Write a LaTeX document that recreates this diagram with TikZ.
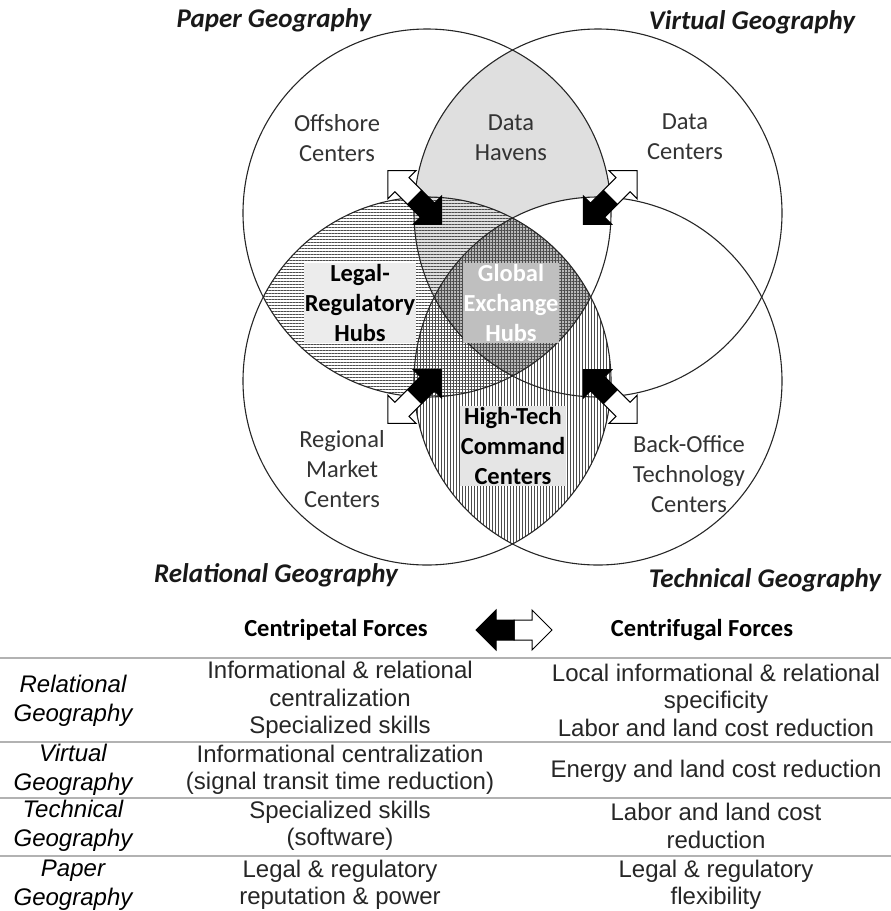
\documentclass[tikz,border=0pt]{standalone}
\usepackage{fontspec}
\setmainfont{Carlito}
\newfontfamily\tablefont{Liberation Sans}
\usetikzlibrary{patterns.meta}

\tikzset{
  forces/.pic={
    \filldraw[fill=white,line width=1pt,line join=miter] (0,-10) -- (18,-10) -- (18,-20) -- (38,0) -- (18,20) -- (18,10) -- (0,10) -- cycle;
    \filldraw[fill=black,line width=1pt,line join=miter] (0,-10) -- (-18,-10) -- (-18,-20) -- (-38,0) -- (-18,20) -- (-18,10) -- (0,10) -- cycle;
  }
}

\begin{document}
\begin{tikzpicture}[x=1pt,y=-1pt,
    ring/.style={draw=black!85,line width=1.1pt},
    hlines/.style={pattern={Lines[angle=0,distance=3pt,line width=0.9pt]},pattern color=black!70},
    vlines/.style={pattern={Lines[angle=90,distance=3pt,line width=0.9pt]},pattern color=black!70},
    place/.style={align=center,text=black!80,font=\fontsize{24.5}{30}\selectfont},
    hub/.style={align=center,inner sep=1pt,font=\fontsize{24.5}{30}\selectfont\bfseries},
    geo/.style={text=black!90,font=\fontsize{27}{30}\selectfont\bfseries\itshape},
    force/.style={font=\fontsize{24.5}{30}\selectfont\bfseries},
    cell/.style={align=center,text=black!85,font=\tablefont\fontsize{24}{27.5}\selectfont},
    rowhead/.style={align=center,font=\tablefont\fontsize{24}{28.5}\selectfont\itshape},
    rule/.style={draw=gray!60,line width=2.5pt}]
\useasboundingbox (0,0) rectangle (891,911);

            % Geographies
            \coordinate (pap) at (427,213);
            \coordinate (vir) at (598,213);
            \coordinate (rel) at (427,381);
            \coordinate (tec) at (598,381);

            % Data havens
            \begin{scope}
              \clip (pap) circle (184pt);
              \fill[gray!25] (vir) circle (184pt);
              \clip (vir) circle (184pt);
              \fill[white] (tec) circle (184pt);
            \end{scope}
            % Legal-regulatory and high-tech lenses
            \begin{scope}
              \clip (pap) circle (184pt);
              \fill[hlines] (rel) circle (184pt);
            \end{scope}
            \begin{scope}
              \clip (rel) circle (184pt);
              \fill[vlines] (tec) circle (184pt);
            \end{scope}
            % Global exchange hubs
            \begin{scope}
              \clip (pap) circle (184pt);
              \clip (vir) circle (184pt);
              \clip (rel) circle (184pt);
              \fill[gray!55] (tec) circle (184pt);
              \fill[hlines] (tec) circle (184pt);
              \fill[vlines] (tec) circle (184pt);
            \end{scope}

            \draw[ring] (pap) circle (184pt);
            \draw[ring] (vir) circle (184pt);
            \draw[ring] (rel) circle (184pt);
            \draw[ring] (tec) circle (184pt);

            % Labels
            \node[geo] (pgeo) at (274,20) {Paper Geography};
            \node[geo] (vgeo) at (752,22) {Virtual Geography};
            \node[geo] (rgeo) at (276,575) {Relational Geography};
            \node[geo] (tgeo) at (765,580) {Technical Geography};

            \node[place] (offshore) at (337,138) {Offshore\\Centers};
            \node[place] (havens) at (511,138) {Data\\Havens};
            \node[place] (datac) at (685,137) {Data\\Centers};
            \node[hub,fill=gray!15] (legal) at (360,303) {Legal-\\Regulatory\\Hubs};
            \node[hub,fill=gray!50,text=white] (global) at (511,303) {Global\\Exchange\\Hubs};
            \node[hub,fill=gray!20] (hightech) at (513,446) {High-Tech\\Command\\Centers};
            \node[place] (regional) at (342,469) {Regional\\Market\\Centers};
            \node[place] (backoffice) at (689,474) {Back-Office\\Technology\\Centers};

            % Forces
            \coordinate (nw) at (414.7,197.4);
            \coordinate (ne) at (610.3,197.4);
            \coordinate (sw) at (414.7,396.6);
            \coordinate (se) at (610.3,396.6);
            \pic[rotate=135] at (nw) {forces};
            \pic[rotate=45] at (ne) {forces};
            \pic[rotate=225] at (sw) {forces};
            \pic[rotate=315] at (se) {forces};

            % Legend
            \node[force] (cpetal) at (336,630) {Centripetal Forces};
            \coordinate (key) at (514,630);
            \pic at (key) {forces};
            \node[force] (cfugal) at (702,630) {Centrifugal Forces};

            % Table
            \draw[rule] (0,658) -- (891,658);
            \draw[rule] (0,742) -- (891,742);
            \draw[rule] (0,798) -- (891,798);
            \draw[rule] (0,856) -- (891,856);

            \node[rowhead] (relrow) at (73,701) {Relational\\Geography};
            \node[cell] (relin) at (340,700) {Informational \& relational\\centralization\\Specialized skills};
            \node[cell] (relout) at (716,700) {Local informational \& relational\\specificity\\Labor and land cost reduction};

            \node[rowhead] (virrow) at (73,770) {Virtual\\Geography};
            \node[cell] (virin) at (340,770) {Informational centralization\\(signal transit time reduction)};
            \node[cell] (virout) at (716,771) {Energy and land cost reduction};

            \node[rowhead] (tecrow) at (73,826) {Technical\\Geography};
            \node[cell] (tecin) at (340,826) {Specialized skills\\(software)};
            \node[cell] (tecout) at (716,826) {Labor and land cost\\reduction};

            \node[rowhead] (paprow) at (73,885) {Paper\\Geography};
            \node[cell] (papin) at (340,885) {Legal \& regulatory\\reputation \& power};
            \node[cell] (papout) at (716,885) {Legal \& regulatory\\flexibility};

\end{tikzpicture}
\end{document}
